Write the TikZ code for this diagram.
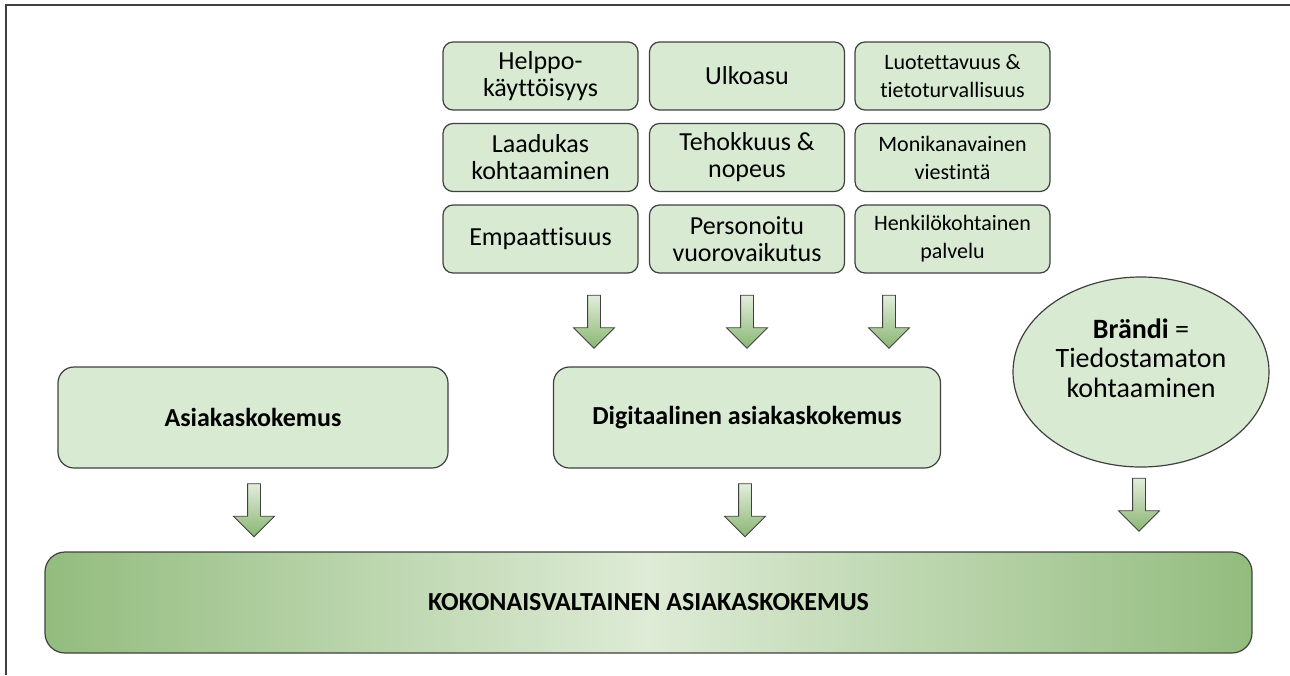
\documentclass[tikz,border=0pt]{standalone}
\usepackage{fontspec}
\setmainfont[Ligatures=NoCommon]{Carlito}
\usepackage{tikz}
\usetikzlibrary{shapes.geometric, shapes.arrows, positioning}
\definecolor{boxgreen}{RGB}{217, 234, 211}
\definecolor{darkgreen}{RGB}{147, 188, 126}
\definecolor{lightgreen}{RGB}{222, 235, 214}
\definecolor{arrowtop}{RGB}{226, 237, 220}
\definecolor{arrowbot}{RGB}{137, 182, 114}
\definecolor{edgegray}{RGB}{64, 64, 64}

\begin{document}
\begin{tikzpicture}[
  x=1pt, y=-1pt,
  fbox/.style={draw=edgegray, line width=1.2pt, fill=boxgreen, rounded corners=10pt, minimum width=195pt, minimum height=68pt, align=center, inner sep=2pt, font=\fontsize{26}{27}\selectfont},
  sfbox/.style={fbox, font=\fontsize{22}{28}\selectfont},
  bigbox/.style={draw=edgegray, line width=1.2pt, fill=boxgreen, rounded corners=16pt, minimum height=101pt, font=\fontsize{26}{28}\selectfont\bfseries},
  downarr/.style={draw=edgegray, line width=0.8pt, single arrow, shape border rotate=270, minimum height=53pt, inner sep=6pt, single arrow head extend=14pt, top color=arrowtop, bottom color=arrowbot}
]
  \useasboundingbox (0,0) rectangle (1290,675);
  % frame
  \draw[edgegray, line width=1.5pt] (6,675) -- (6,5) -- (1290,5);

  % factor boxes
  \node[fbox] (easy) at (540.5,76) {Helppo-\\käyttöisyys};
  \node[fbox] (look) at (747,76) {Ulkoasu};
  \node[sfbox] (trust) at (952.5,76) {Luotettavuus \&\\tietoturvallisuus};
  \node[fbox] (quality) at (540.5,157.5) {Laadukas\\kohtaaminen};
  \node[fbox] (speed) at (747,157.5) {Tehokkuus \&\\nopeus};
  \node[sfbox] (channel) at (952.5,157.5) {Monikanavainen\\viestintä};
  \node[fbox] (empathy) at (540.5,239) {Empaattisuus};
  \node[fbox] (personal) at (747,239) {Personoitu\\vuorovaikutus};
  \node[sfbox] (service) at (952.5,239) {Henkilökohtainen\\palvelu};

  % arrows into digital experience
  \node[downarr] (arrA) at (594,318.5) {};
  \node[downarr] (arrB) at (747,318.5) {};
  \node[downarr] (arrC) at (889,318.5) {};

  % middle row
  \node[bigbox, minimum width=390pt] (cx) at (253,417.5) {Asiakaskokemus};
  \node[bigbox, minimum width=387pt] (dcx) at (747,417.5) {Digitaalinen asiakaskokemus};
  \node[draw=edgegray, line width=1.2pt, fill=boxgreen, ellipse, minimum width=256pt, minimum height=190pt] (brand) at (1141,372) {};
  \node[align=center, font=\fontsize{28}{29.5}\selectfont] (brandtxt) at ([yshift=14pt]brand.center) {\textbf{Brändi} =\\Tiedostamaton\\kohtaaminen};

  % arrows into the total
  \node[downarr] (arrD) at (254,507) {};
  \node[downarr] (arrE) at (745,507) {};
  \node[downarr] (arrF) at (1139,501.5) {};

  \node[draw=edgegray, line width=1.2pt, rounded corners=20pt, minimum width=1207pt, minimum height=101pt,
        left color=darkgreen, right color=darkgreen, middle color=lightgreen,
        font=\fontsize{26}{28}\selectfont\bfseries] (total) at (648.5,602.5) {KOKONAISVALTAINEN ASIAKASKOKEMUS};
\end{tikzpicture}
\end{document}
